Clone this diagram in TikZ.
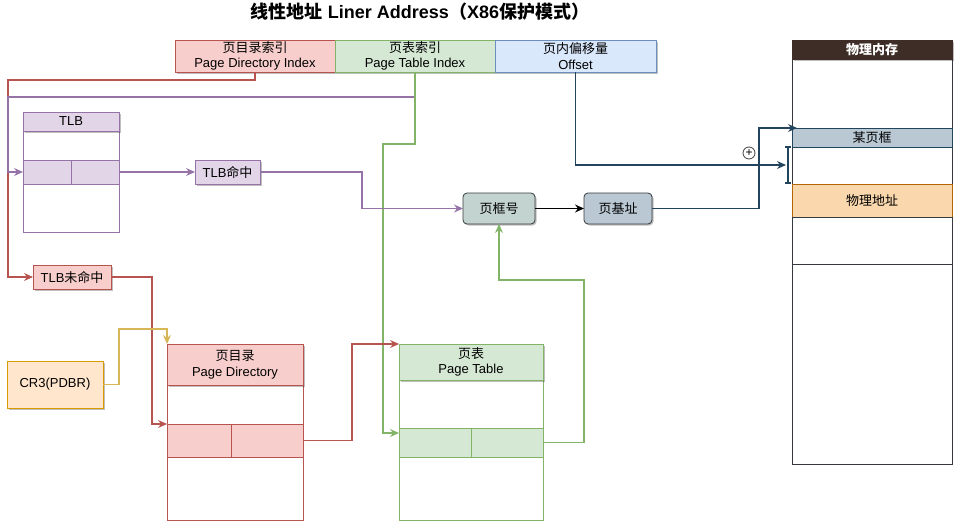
\documentclass[tikz,border=0pt]{standalone}
\usepackage{fontspec}
\setmainfont{Liberation Sans}
\newfontfamily\cjk{Noto Sans CJK SC}
\usetikzlibrary{positioning, arrows.meta, shadows}

\definecolor{redfill}{HTML}{F8CECC}
\definecolor{redline}{HTML}{B85450}
\definecolor{greenfill}{HTML}{D5E8D4}
\definecolor{greenline}{HTML}{82B366}
\definecolor{bluefill}{HTML}{DAE8FC}
\definecolor{blueline}{HTML}{6C8EBF}
\definecolor{purplefill}{HTML}{E1D5E7}
\definecolor{purpleline}{HTML}{9673A6}
\definecolor{orangefill}{HTML}{FFE6CC}
\definecolor{orangeline}{HTML}{D79B00}
\definecolor{yellowline}{HTML}{D6B656}
\definecolor{peachfill}{HTML}{FAD7AC}
\definecolor{peachline}{HTML}{B46504}
\definecolor{slatefill}{HTML}{BAC8D3}
\definecolor{slateline}{HTML}{23445D}
\definecolor{pfnfill}{HTML}{C3D3CF}
\definecolor{memhead}{HTML}{3E2D26}
\definecolor{memline}{HTML}{36393D}

\tikzstyle{cell} = [draw, inner sep=0pt, outer sep=0pt, align=center, anchor=north west, line width=0.8pt, font=\fontsize{13}{15.5}\selectfont]
\tikzstyle{shade} = [drop shadow={shadow xshift=1.5pt, shadow yshift=-1.5pt, opacity=0.25, fill=black}]
\tikzstyle{rbox} = [cell, rounded corners=4pt, draw=memline, shade]
\tikzstyle{arrow} = [line width=1.2pt, -{Stealth[length=9pt, width=8pt, inset=3pt]}]

\begin{document}
\begin{tikzpicture}[x=1pt, y=-1pt]
\useasboundingbox (0,0) rectangle (962,530);

\node (title) [font=\bfseries\fontsize{18}{20}\selectfont] at (420,12) {{\cjk 线性地址} Liner Address{\cjk （}X86{\cjk 保护模式）}};

% linear address
\node (pdi) [cell, shade, fill=redfill, draw=redline, minimum width=160pt, minimum height=32pt] at (175,40) {{\cjk 页目录索引}\\Page Directory Index};
\node (pti) [cell, shade, fill=greenfill, draw=greenline, minimum width=160pt, minimum height=32pt, right=0pt of pdi] {{\cjk 页表索引}\\Page Table Index};
\node (off) [cell, shade, fill=bluefill, draw=blueline, minimum width=161pt, minimum height=32pt, right=0pt of pti] {{\cjk 页内偏移量}\\Offset};

% TLB
\node (tlb) [cell, draw=purpleline, minimum width=96pt, minimum height=101pt] at (23,131) {};
\node (tlbhead) [cell, shade, fill=purplefill, draw=purpleline, minimum width=96pt, minimum height=19pt] at (23,112) {TLB};
\node (tlbrowa) [cell, fill=purplefill, draw=purpleline, minimum width=48pt, minimum height=24pt] at (23,160) {};
\node (tlbrowb) [cell, fill=purplefill, draw=purpleline, minimum width=48pt, minimum height=24pt] at (71,160) {};
\node (tlbhit) [cell, shade, fill=purplefill, draw=purpleline, minimum width=65pt, minimum height=24pt] at (195,160) {TLB{\cjk 命中}};
\node (tlbmiss) [cell, shade, fill=redfill, draw=redline, minimum width=78pt, minimum height=24pt] at (33,265) {TLB{\cjk 未命中}};
\node (cr3) [cell, shade, fill=orangefill, draw=orangeline, minimum width=96pt, minimum height=47pt] at (7,361) {CR3(PDBR)};

% page directory
\node (pd) [cell, draw=redline, minimum width=136pt, minimum height=135pt] at (167,385) {};
\node (pdhead) [cell, shade, fill=redfill, draw=redline, minimum width=136pt, minimum height=41pt] at (167,344) {{\cjk 页目录}\\Page Directory};
\node (pdrowa) [cell, fill=redfill, draw=redline, minimum width=64pt, minimum height=33pt] at (167,424) {};
\node (pdrowb) [cell, fill=redfill, draw=redline, minimum width=72pt, minimum height=33pt] at (231,424) {};

% page table
\node (pt) [cell, draw=greenline, minimum width=144pt, minimum height=140pt] at (399,380) {};
\node (pthead) [cell, shade, fill=greenfill, draw=greenline, minimum width=144pt, minimum height=36pt] at (399,344) {{\cjk 页表}\\Page Table};
\node (ptrowa) [cell, fill=greenfill, draw=greenline, minimum width=72pt, minimum height=29pt] at (399,428) {};
\node (ptrowb) [cell, fill=greenfill, draw=greenline, minimum width=72pt, minimum height=29pt] at (471,428) {};

\node (pfn) [rbox, fill=pfnfill, minimum width=72pt, minimum height=31pt] at (463,193) {\cjk 页框号};
\node (pba) [rbox, fill=slatefill, minimum width=68pt, minimum height=31pt] at (584,193) {\cjk 页基址};

% physical memory
\node (mem) [cell, draw=memline, minimum width=160pt, minimum height=405pt] at (792,59) {};
\node (memhead) [cell, shade, fill=memhead, draw=memhead, text=white, minimum width=160pt, minimum height=19pt, font=\bfseries\fontsize{13}{15}\selectfont] at (792,40) {\cjk 物理内存};
\node (frame) [cell, fill=slatefill, draw=slateline, minimum width=160pt, minimum height=19pt] at (792,128) {\cjk 某页框};
\node (paddr) [cell, fill=peachfill, draw=peachline, minimum width=160pt, minimum height=33pt] at (792,184) {\cjk 物理地址};
\node (page) [cell, draw=memline, minimum width=160pt, minimum height=47pt] at (792,217) {};

\coordinate (brk) at (788,165);
\draw [line width=1.2pt, slateline] (785,147) -- (791,147) (788,147) -- (788,183) (785,183) -- (791,183);
\node (plus) [circle, draw=black!75, line width=0.8pt, minimum size=12pt, inner sep=0pt, font=\fontsize{12}{12}\selectfont] at (749,153) {+};

% connectors
\draw [arrow, redline] (pdi.south) -- ++(0,8) -| ([xshift=-25pt]tlbmiss.west) -- (tlbmiss.west);
\draw [arrow, purpleline] (pti.south) -- ++(0,25) -| ([xshift=-15pt]tlbrowa.west) -- (tlbrowa.west);
\draw [arrow, greenline] (pti.south) -- ++(0,72) -| ([xshift=-16pt, yshift=-5pt]ptrowa.north west) -- ([yshift=-5pt]ptrowa.north west);
\draw [arrow, purpleline] (tlbrowb.east) -- (tlbhit.west);
\draw [arrow, purpleline] (tlbhit.east) -- ++(102,0) |- (pfn.west);
\draw [arrow, redline] (tlbmiss.east) -| ([xshift=-15pt]pdrowa.north west) -- (pdrowa.north west);
\draw [arrow, yellowline] (cr3.east) -- ++(16,0) |- ([yshift=15pt]pdhead.north west) -- (pdhead.north west);
\draw [arrow, redline] (pdrowb.east) -- ++(49,0) |- (pthead.north west);
\draw [arrow, greenline] (ptrowb.east) -- ++(41,0) |- ([yshift=-56pt]pfn.south) -- (pfn.south);
\draw [arrow, black] (pfn) -- (pba);
\draw [arrow, slateline] (pba.east) -- ++(107,0) |- ([xshift=5pt]frame.north west);
\draw [arrow, slateline] (off.south) |- ([xshift=-2pt]brk);

\end{tikzpicture}
\end{document}
